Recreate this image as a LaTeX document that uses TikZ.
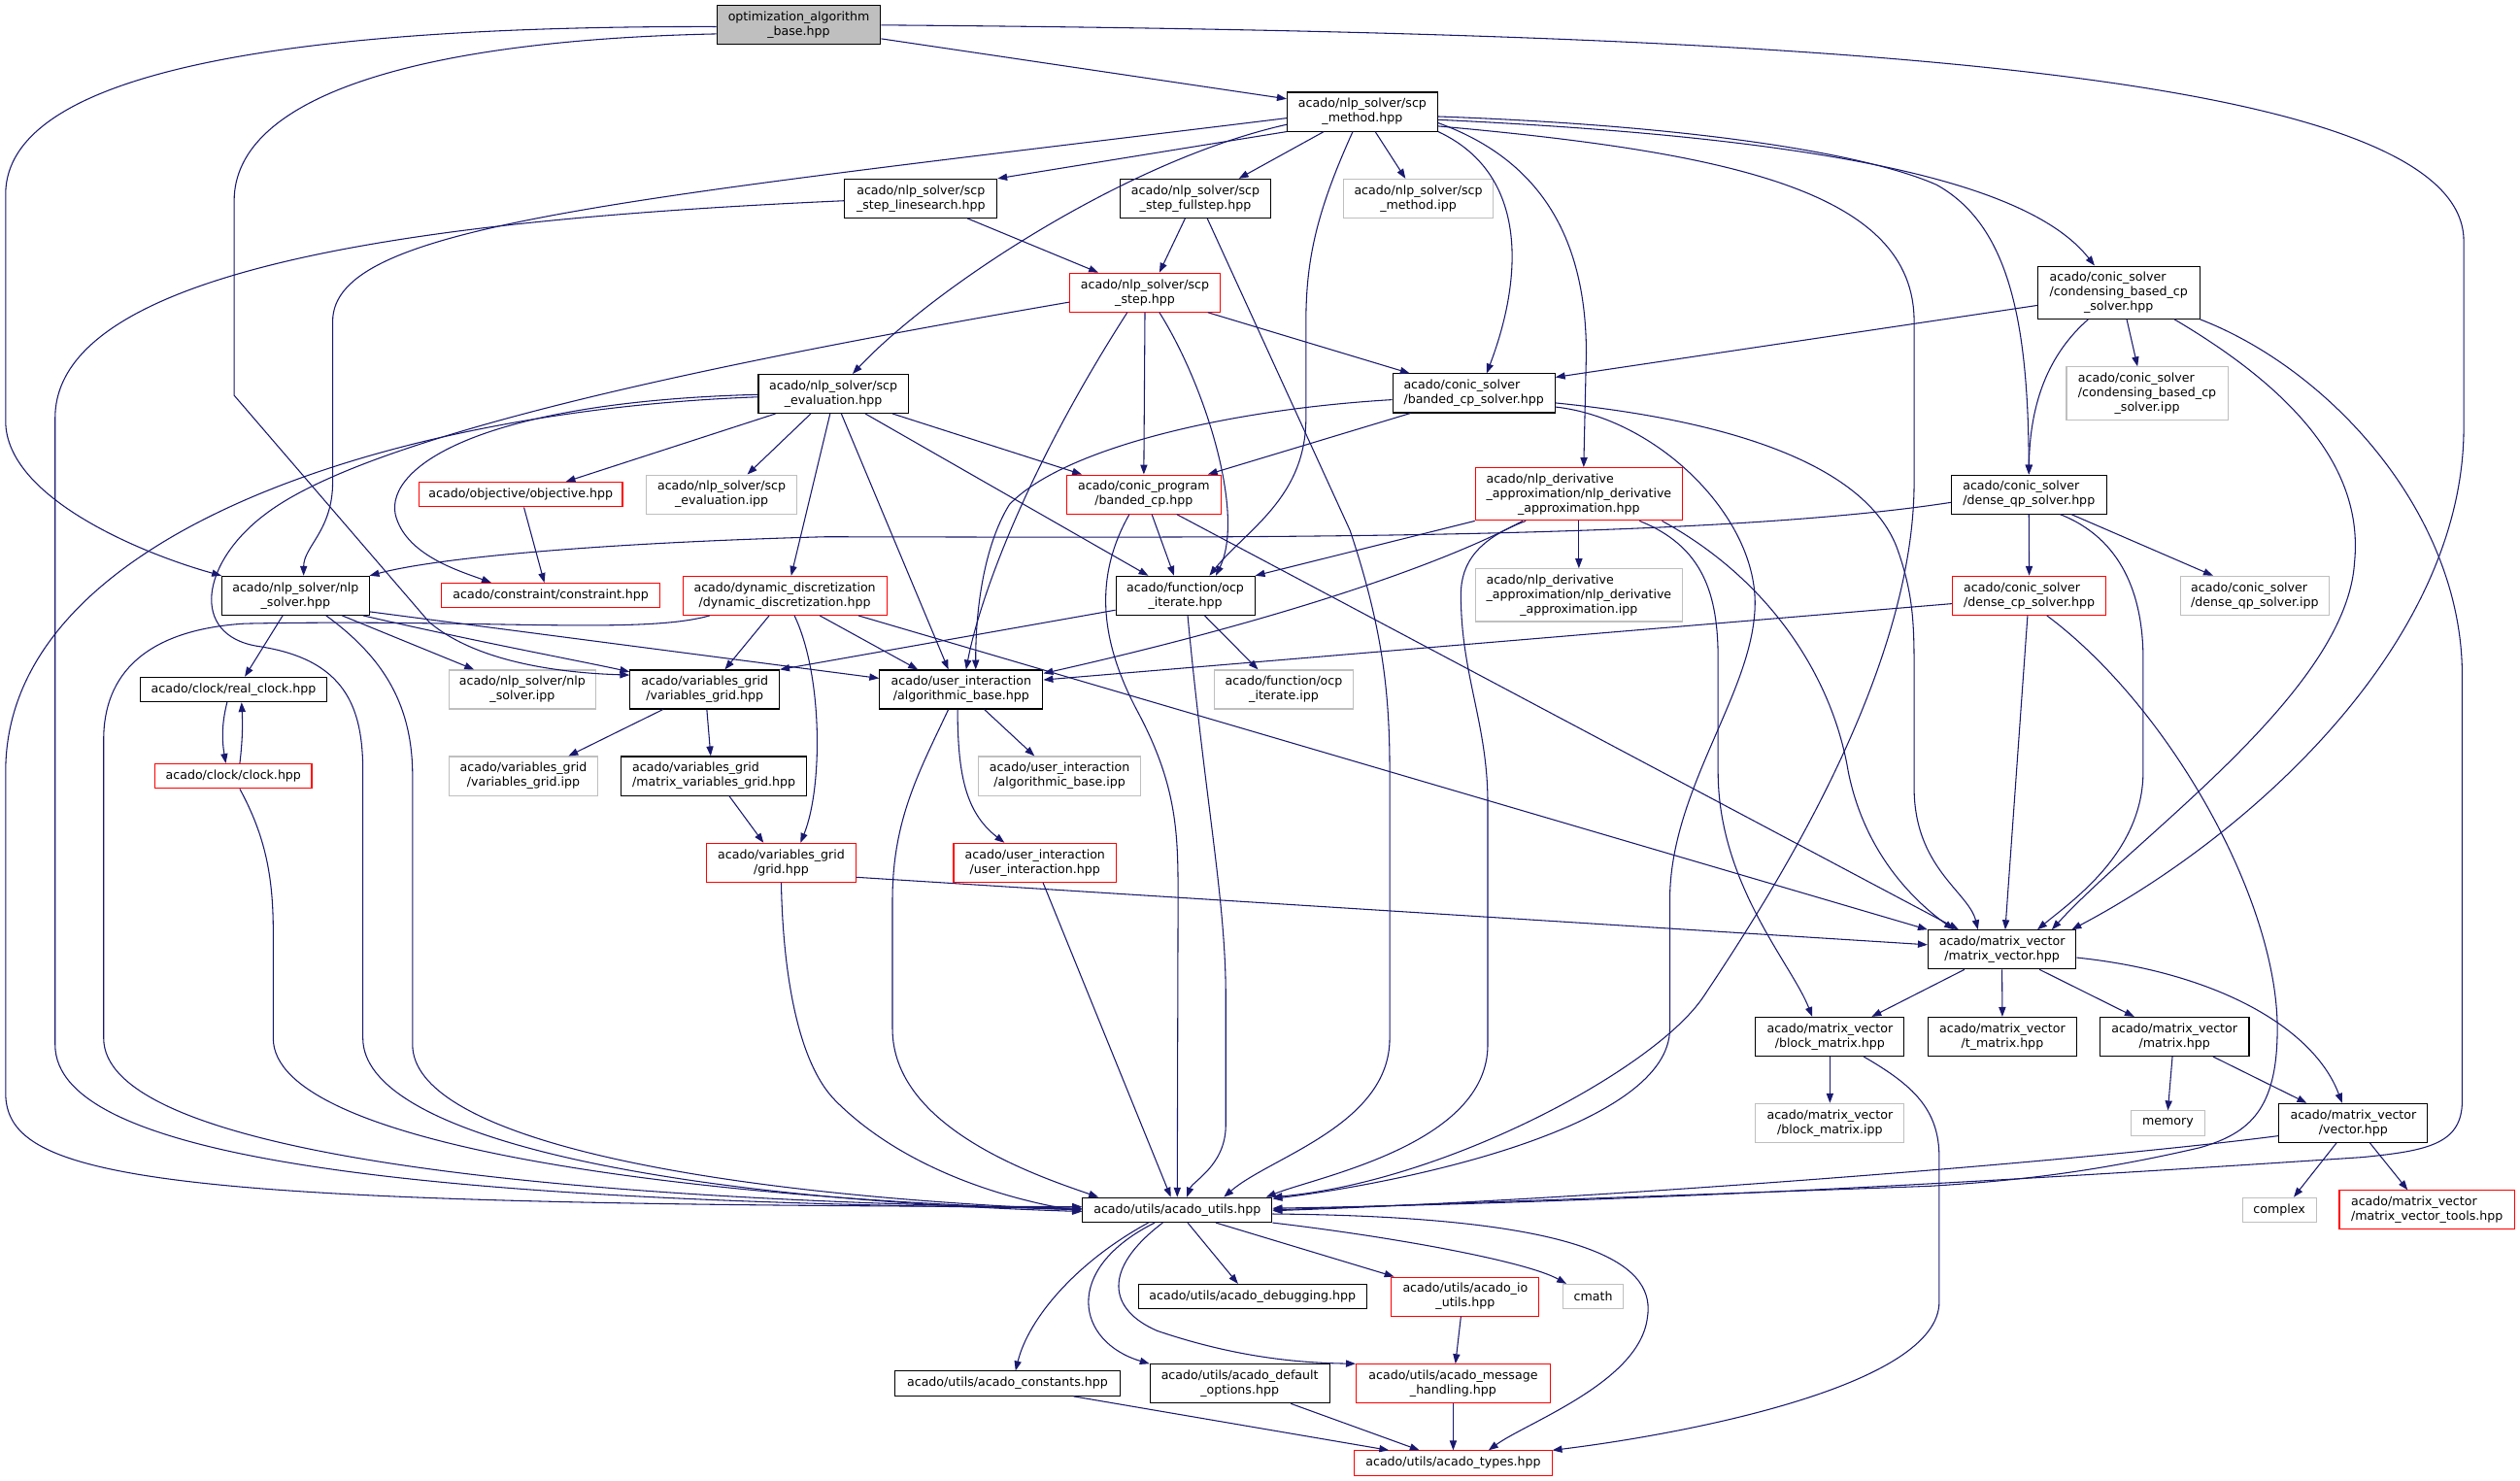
\documentclass[tikz,border=0pt]{standalone}
\usepackage{fontspec}
\newfontfamily\dxfont{DejaVu Sans}
\usetikzlibrary{calc,arrows.meta}
\definecolor{edgeblue}{HTML}{191970}
\definecolor{extgray}{HTML}{BFBFBF}
\newcommand{\lfirst}[2]{\rlap{#1}\phantom{#2}}
\tikzset{
  hdr/.style={draw=black, line width=0.55pt, fill=white, align=center, inner xsep=1pt, inner ysep=1pt,
    font=\dxfont\fontsize{6.5pt}{7.73pt}\selectfont},
  hdrred/.style={hdr, draw=red},
  hdrext/.style={hdr, draw=extgray},
  hdrmain/.style={hdr, fill=extgray},
  lal/.style={align=left},
  wd/.style={minimum width=#1*0.03cm},
  h1/.style={minimum height=0.459cm},
  h2/.style={minimum height=0.726cm},
  h3/.style={minimum height=0.984cm},
  inc/.style={draw=edgeblue, line width=0.55pt, -{Triangle[length=0.18cm,width=0.13cm]}}
}
\begin{document}
\begin{tikzpicture}[x=0.03cm, y=-0.03cm]
\fill[white] (0,0) rectangle (1568,921);
\useasboundingbox (0,0) rectangle (1568,921);

\node[hdrmain,wd=102,h2] (opt) at (497,15.6) {optimization\_algorithm\\\_base.hpp};
\node[hdr,wd=93.7,h2] (scpmethod) at (847.7,69.5) {acado/nlp\_solver/scp\\\_method.hpp};
\node[hdr,wd=94.7,h2] (linesearch) at (573,123.5) {acado/nlp\_solver/scp\\\_step\_linesearch.hpp};
\node[hdr,wd=93.3,h2] (fullstep) at (743.8,123.5) {acado/nlp\_solver/scp\\\_step\_fullstep.hpp};
\node[hdrext,wd=93.3,h2] (methodipp) at (882.5,123.5) {acado/nlp\_solver/scp\\\_method.ipp};
\node[hdr,wd=100.7,h3] (condensing) at (1318.3,182) {\lfirst{acado/conic\_solver}{/condensing\_based\_cp}\\/condensing\_based\_cp\\\_solver.hpp};
\node[hdrred,wd=93.7,h2] (step) at (712.4,182) {acado/nlp\_solver/scp\\\_step.hpp};
\node[hdr,wd=93.2,h2] (eval) at (518.5,245) {acado/nlp\_solver/scp\\\_evaluation.hpp};
\node[hdr,lal,wd=101,h2] (bsolver) at (917,244.7) {acado/conic\_solver\\/banded\_cp\_solver.hpp};
\node[hdrext,wd=100.4,h3] (condipp) at (1336,244.7) {\lfirst{acado/conic\_solver}{/condensing\_based\_cp}\\/condensing\_based\_cp\\\_solver.ipp};
\node[hdrred,wd=126.6,h1] (objective) at (324,307.7) {acado/objective/objective.hpp};
\node[hdrext,wd=93.6,h2] (evalipp) at (449,307.6) {acado/nlp\_solver/scp\\\_evaluation.ipp};
\node[hdrred,wd=96.4,h2] (bandedcp) at (711.7,307.6) {acado/conic\_program\\/banded\_cp.hpp};
\node[hdrred,wd=128.8,h3] (nlpderiv) at (982.4,307.4) {\lfirst{acado/nlp\_derivative}{\_approximation/nlp\_derivative}\\\_approximation/nlp\_derivative\\\_approximation.hpp};
\node[hdr,lal,wd=96.5,h2] (denseqp) at (1262.4,307.6) {acado/conic\_solver\\/dense\_qp\_solver.hpp};
\node[hdr,wd=91.5,h2] (nlpsolver) at (183.9,370.6) {acado/nlp\_solver/nlp\\\_solver.hpp};
\node[hdrred,wd=136,h1] (constraint) at (342.7,370.5) {acado/constraint/constraint.hpp};
\node[hdrred,wd=126.9,h2] (dyndisc) at (488.3,370.6) {acado/dynamic\_discretization\\/dynamic\_discretization.hpp};
\node[hdr,wd=86.4,h2] (ocpit) at (737.5,370.6) {acado/function/ocp\\\_iterate.hpp};
\node[hdrext,wd=128.8,h3] (derivipp) at (982.4,370.3) {\lfirst{acado/nlp\_derivative}{\_approximation/nlp\_derivative}\\\_approximation/nlp\_derivative\\\_approximation.ipp};
\node[hdrred,lal,wd=95.6,h2] (densecp) at (1262.6,370.6) {acado/conic\_solver\\/dense\_cp\_solver.hpp};
\node[hdrext,lal,wd=92.8,h2] (denseqpipp) at (1403,370.6) {acado/conic\_solver\\/dense\_qp\_solver.ipp};
\node[hdr,wd=115.9,h1] (realclock) at (145.3,429) {acado/clock/real\_clock.hpp};
\node[hdrext,wd=91.6,h2] (solveripp) at (325,429) {acado/nlp\_solver/nlp\\\_solver.ipp};
\node[hdr,wd=92.9,h2] (vargrid) at (438.5,429) {acado/variables\_grid\\/variables\_grid.hpp};
\node[hdr,wd=101.6,h2] (algbase) at (598.1,429) {acado/user\_interaction\\/algorithmic\_base.hpp};
\node[hdrext,wd=86.1,h2] (ocpitipp) at (798.8,429) {acado/function/ocp\\\_iterate.ipp};
\node[hdrred,wd=97.5,h1] (clock) at (145.2,482.9) {acado/clock/clock.hpp};
\node[hdrext,wd=92.3,h2] (vargridipp) at (325.7,482.8) {acado/variables\_grid\\/variables\_grid.ipp};
\node[hdr,lal,wd=115.6,h2] (matvargrid) at (444.2,482.8) {acado/variables\_grid\\/matrix\_variables\_grid.hpp};
\node[hdrext,wd=101.2,h2] (algbaseipp) at (659.3,482.8) {acado/user\_interaction\\/algorithmic\_base.ipp};
\node[hdrred,wd=92.7,h2] (grid) at (486.1,536.8) {acado/variables\_grid\\/grid.hpp};
\node[hdrred,wd=101.3,h2] (userint) at (644,536.8) {acado/user\_interaction\\/user\_interaction.hpp};
\node[hdr,wd=92.1,h2] (matvec) at (1245.7,590.8) {acado/matrix\_vector\\/matrix\_vector.hpp};
\node[hdr,wd=92.4,h2] (blockmat) at (1138.6,645) {acado/matrix\_vector\\/block\_matrix.hpp};
\node[hdr,wd=92.4,h2] (tmat) at (1245.9,645) {acado/matrix\_vector\\/t\_matrix.hpp};
\node[hdr,wd=92.8,h2] (mat) at (1353,645) {acado/matrix\_vector\\/matrix.hpp};
\node[hdrext,wd=92.4,h2] (blockmatipp) at (1138.6,698.7) {acado/matrix\_vector\\/block\_matrix.ipp};
\node[hdrext,wd=45.9,h1] (memory) at (1348.9,698.8) {memory};
\node[hdr,wd=92.5,h2] (vector) at (1464.3,698.7) {acado/matrix\_vector\\/vector.hpp};
\node[hdr,wd=118,h1] (utils) at (732.5,752.8) {acado/utils/acado\_utils.hpp};
\node[hdrext,wd=45.9,h1] (complex) at (1418.2,752.8) {complex};
\node[hdrred,lal,wd=109,h2] (mvtools) at (1510.1,752.8) {acado/matrix\_vector\\/matrix\_vector\_tools.hpp};
\node[hdr,wd=142.2,h1] (debugging) at (779.3,806.7) {acado/utils/acado\_debugging.hpp};
\node[hdrred,wd=91.9,h2] (ioutils) at (911.7,806.7) {acado/utils/acado\_io\\\_utils.hpp};
\node[hdrext,wd=37.4,h1] (cmath) at (991.3,806.7) {cmath};
\node[hdr,wd=139.8,h1] (constants) at (626.9,860.8) {acado/utils/acado\_constants.hpp};
\node[hdr,wd=111.7,h2] (defopts) at (771.4,860.9) {acado/utils/acado\_default\\\_options.hpp};
\node[hdrred,wd=120.8,h2] (msghandling) at (904.2,860.9) {acado/utils/acado\_message\\\_handling.hpp};
\node[hdrred,wd=122.8,h1] (types) at (904.2,910.3) {acado/utils/acado\_types.hpp};

% optimization_algorithm_base
\draw[inc] ($(opt.east)+(0,8.5)$) -- ($(scpmethod.west)+(0,-8)$);
\draw[inc] ($(opt.west)+(0,1)$) .. controls (200,16) and (3.5,40) .. (3.5,121) -- (3.5,262) .. controls (3.5,310) and (90,345) .. (nlpsolver.north west);
\draw[inc] ($(opt.west)+(0,5.5)$) .. controls (260,25) and (145.7,60) .. (145.7,125) -- (145.7,246) -- (267,387) .. controls (300,415) and (360,419) .. ($(vargrid.west)+(0,-9)$);
\draw[inc] (opt.east) .. controls (1100,20) and (1533,40) .. (1533,150) -- (1533,266) .. controls (1533,400) and (1400,520) .. ($(matvec.north east)+(-3,0)$);

% scp_method
\draw[inc] (scpmethod.south west) -- (linesearch.north east);
\draw[inc] ($(scpmethod.south)+(-24,0)$) -- ($(fullstep.north)+(27,0)$);
\draw[inc] ($(scpmethod.south)+(8,0)$) -- ($(methodipp.north)+(-8,0)$);
\draw[inc] ($(scpmethod.west)+(0,8)$) .. controls (700,100) and (580,180) .. ($(eval.north)+(12,0)$);
\draw[inc] ($(scpmethod.west)+(0,4)$) .. controls (380,125) and (207,140) .. (207,200) -- (207,300) .. controls (207,330) and (189,340) .. ($(nlpsolver.north)+(5,0)$);
\draw[inc] ($(scpmethod.south)+(-6,0)$) .. controls (820,130) and (812.6,160) .. (812.6,200) -- (812.6,260) .. controls (812.6,310) and (775,330) .. ($(ocpit.north)+(15,0)$);
\draw[inc] (scpmethod.south east) .. controls (955,110) and (945,180) .. ($(bsolver.north)+(8,0)$);
\draw[inc] ($(scpmethod.east)+(0,7)$) .. controls (960,100) and (987,150) .. (987,220) -- ($(nlpderiv.north)+(3,0)$);
\draw[inc] ($(scpmethod.east)+(0,3)$) .. controls (1050,78) and (1160,95) .. (1205,115) .. controls (1250,140) and (1262,200) .. (denseqp.north);
\draw[inc] ($(scpmethod.east)+(0,5)$) .. controls (1120,85) and (1260,110) .. ($(condensing.north)+(-15,0)$);
\draw[inc] ($(scpmethod.east)+(0,9)$) .. controls (1080,95) and (1191,120) .. (1191,200) -- (1191,300) .. controls (1191,420) and (1100,560) .. (1060,620) .. controls (1030,665) and (900,735) .. (utils.north east);

% scp steps
\draw[inc] ($(linesearch.south)+(29,0)$) -- ($(step.north)+(-29,0)$);
\draw[inc] ($(linesearch.west)+(0,1.4)$) .. controls (300,135) and (34.3,160) .. (34.3,260) -- (34.3,650) .. controls (34.3,720) and (250,748) .. ($(utils.west)+(0,-1)$);
\draw[inc] ($(fullstep.south)+(-6.4,0)$) -- ($(step.north)+(9,0)$);
\draw[inc] ($(fullstep.south)+(7.4,0)$) -- (840,330) .. controls (860,390) and (864.7,430) .. (864.7,480) -- (864.7,646) .. controls (864.7,700) and (790,720) .. ($(utils.north)+(29,0)$);
\draw[inc] ($(step.south east)+(-8,0)$) -- ($(bsolver.north west)+(11,0)$);
\draw[inc] (step.south) -- (bandedcp.north);
\draw[inc] ($(step.south)+(9,0)$) .. controls (750,240) and (775,320) .. ($(ocpit.north)+(19,0)$);
\draw[inc] ($(step.south)+(-11,0)$) .. controls (640,290) and (610,370) .. ($(algbase.north)+(3,0)$);
\draw[inc] ($(step.west)+(0,6)$) .. controls (450,225) and (230,270) .. (165,320) .. controls (125,350) and (118,395) .. (160,402) .. controls (215,410) and (225.8,440) .. (225.8,480) -- (225.8,646) .. controls (225.8,705) and (400,745) .. ($(utils.west)+(0,1)$);

% scp_evaluation
\draw[inc] ($(eval.south)+(-36,0)$) -- ($(objective.north)+(28,0)$);
\draw[inc] ($(eval.south)+(-14,0)$) -- ($(evalipp.north)+(16,0)$);
\draw[inc] ($(eval.west)+(0,0.5)$) .. controls (300,250) and (240,290) .. (246,320) .. controls (252,345) and (285,355) .. ($(constraint.north)+(-37,0)$);
\draw[inc] ($(eval.south)+(-2,0)$) -- ($(dyndisc.north)+(4,0)$);
\draw[inc] ($(eval.south)+(5,0)$) -- ($(algbase.north)+(-8,0)$);
\draw[inc] ($(eval.south east)+(-27,0)$) -- ($(ocpit.north)+(-23,0)$);
\draw[inc] ($(eval.south east)+(-10,0)$) -- ($(bandedcp.north west)+(10,0)$);
\draw[inc] ($(eval.west)+(0,2)$) .. controls (250,255) and (3.5,330) .. (3.5,480) -- (3.5,680) .. controls (3.5,735) and (100,750) .. ($(utils.west)+(0,-2)$);
\draw[inc] ($(objective.south)+(2,0)$) -- ($(constraint.north)+(-4,0)$);

% nlp_solver
\draw[inc] ($(nlpsolver.south)+(-8,0)$) -- ($(realclock.north)+(7,0)$);
\draw[inc] ($(nlpsolver.south)+(29,0)$) -- ($(solveripp.north)+(-30,0)$);
\draw[inc] ($(nlpsolver.south east)+(-4,0)$) .. controls (300,400) and (360,411) .. ($(vargrid.west)+(0,-11)$);
\draw[inc] ($(nlpsolver.east)+(0,10)$) -- ($(algbase.west)+(0,-7)$);
\draw[inc] ($(nlpsolver.south)+(19,0)$) .. controls (240,410) and (256.7,440) .. (256.7,483) -- (256.7,650) .. controls (256.7,705) and (420,742) .. (utils.west);
\draw[inc] ($(realclock.south)+(-4,0)$) .. controls (138,450) and (138,460) .. ($(clock.north)+(-4.7,0)$);
\draw[inc] ($(clock.north)+(4,0)$) .. controls (151,460) and (151,450) .. ($(realclock.south)+(5,0)$);
\draw[inc] ($(clock.south)+(4,0)$) .. controls (165,520) and (170,545) .. (170,580) -- (170,646) .. controls (170,712) and (420,745) .. (utils.west);

% dynamic_discretization
\draw[inc] ($(dyndisc.south)+(-9.7,0)$) -- ($(vargrid.north)+(12.5,0)$);
\draw[inc] ($(dyndisc.south)+(6,0)$) .. controls (512,420) and (512,490) .. ($(grid.north)+(12,0)$);
\draw[inc] ($(dyndisc.south east)+(-42,0)$) -- ($(algbase.north)+(-27,0)$);
\draw[inc] ($(dyndisc.south east)+(-18,0)$) -- (matvec.north west);
\draw[inc] ($(dyndisc.south west)+(17,0)$) .. controls (400,395) and (300,385) .. (152,388) .. controls (90,392) and (64.5,420) .. (64.5,460) -- (64.5,646) .. controls (64.5,712) and (300,746) .. ($(utils.west)+(0,-1)$);

% ocp_iterate, banded_cp
\draw[inc] ($(ocpit.west)+(0,9)$) -- (vargrid.north east);
\draw[inc] ($(ocpit.south)+(12,0)$) -- ($(ocpitipp.north)+(-16,0)$);
\draw[inc] ($(ocpit.south)+(1.5,0)$) .. controls (750,500) and (762.7,560) .. (762.7,620) -- (762.7,700) .. controls (762.7,725) and (742,735) .. ($(utils.north)+(6,0)$);
\draw[inc] ($(bandedcp.south)+(5,0)$) -- ($(ocpit.north)+(-7,0)$);
\draw[inc] ($(bandedcp.south)+(20.5,0)$) -- ($(matvec.north)+(-27,0)$);
\draw[inc] ($(bandedcp.south)+(-9,0)$) .. controls (680,360) and (685,400) .. (708,443) .. controls (733,490) and (733,520) .. (733,560) -- (utils.north);

% banded_cp_solver
\draw[inc] ($(bsolver.south west)+(11.4,0)$) -- ($(bandedcp.north east)+(-8.7,0)$);
\draw[inc] ($(bsolver.west)+(0,4)$) .. controls (760,255) and (660,280) .. (628,314) .. controls (612,340) and (607,380) .. ($(algbase.north)+(9,0)$);
\draw[inc] ($(bsolver.east)+(0,6)$) .. controls (1080,262) and (1160,290) .. (1180,340) .. controls (1191,370) and (1191,390) .. (1191,420) -- (1191,490) .. controls (1191,540) and (1225,555) .. ($(matvec.north)+(-15,0)$);
\draw[inc] ($(bsolver.east)+(0,8.5)$) .. controls (1030,260) and (1092,320) .. (1092,375) .. controls (1092,430) and (1039,490) .. (1039,560) -- (1039,640) .. controls (1039,700) and (880,735) .. ($(utils.north east)+(0,1)$);

% nlp_derivative_approximation
\draw[inc] (nlpderiv.south) -- (derivipp.north);
\draw[inc] (nlpderiv.south west) -- (ocpit.north east);
\draw[inc] ($(nlpderiv.south)+(-35,0)$) .. controls (900,350) and (800,385) .. ($(algbase.east)+(0,-10)$);
\draw[inc] ($(nlpderiv.south)+(-33,0)$) .. controls (920,335) and (909,350) .. (909,370) .. controls (909,420) and (925.7,450) .. (925.7,500) -- (925.7,650) .. controls (925.7,712) and (820,732) .. ($(utils.north east)+(-4,0)$);
\draw[inc] ($(nlpderiv.south east)+(-27,0)$) .. controls (1060,340) and (1069,370) .. (1069,410) -- (1069,480) .. controls (1069,550) and (1115,600) .. ($(blockmat.north)+(-11,0)$);
\draw[inc] ($(nlpderiv.south east)+(-13,0)$) .. controls (1100,360) and (1140,420) .. (1150,480) .. controls (1160,530) and (1190,560) .. ($(matvec.north)+(-30,0)$);

% condensing_based_cp_solver
\draw[inc] ($(condensing.west)+(0,8)$) -- ($(bsolver.east)+(0,-10)$);
\draw[inc] ($(condensing.south)+(5,0)$) -- ($(condipp.north)+(-6,0)$);
\draw[inc] ($(condensing.south)+(-19,0)$) .. controls (1275,220) and (1263,250) .. (denseqp.north);
\draw[inc] ($(condensing.south east)+(-16,0)$) .. controls (1440,250) and (1470,300) .. (1465,350) .. controls (1460,430) and (1330,520) .. ($(matvec.north)+(31,0)$);
\draw[inc] (condensing.south east) .. controls (1450,230) and (1532,320) .. (1532,420) -- (1532,685) .. controls (1532,712) and (1510,716) .. (1470,720) .. controls (1200,738) and (1000,748) .. ($(utils.east)+(0,-1)$);

% dense_qp_solver, dense_cp_solver
\draw[inc] ($(denseqp.west)+(0,5)$) .. controls (1050,338) and (700,334) .. (513,334) .. controls (400,337) and (280,345) .. (nlpsolver.north east);
\draw[inc] (denseqp.south) -- (densecp.north);
\draw[inc] ($(denseqp.south)+(26.4,0)$) -- ($(denseqpipp.north)+(-26,0)$);
\draw[inc] ($(denseqp.south)+(19.4,0)$) .. controls (1320,335) and (1333.5,370) .. (1333.5,410) -- (1333.5,480) .. controls (1333.5,530) and (1290,560) .. ($(matvec.north)+(22,0)$);
\draw[inc] ($(densecp.west)+(0,5)$) -- ($(algbase.east)+(0,-6)$);
\draw[inc] ($(densecp.south)+(-1,0)$) -- ($(matvec.north)+(2,0)$);
\draw[inc] ($(densecp.south)+(11,0)$) .. controls (1350,440) and (1417,560) .. (1417,640) .. controls (1417,690) and (1400,705) .. (1369,714) .. controls (1300,730) and (1250,735) .. (1200,738) -- (utils.east);

% variables_grid, user_interaction
\draw[inc] ($(vargrid.south)+(-26,0)$) -- ($(vargridipp.north)+(28,0)$);
\draw[inc] ($(vargrid.south)+(1.3,0)$) -- ($(matvargrid.north)+(-2,0)$);
\draw[inc] ($(matvargrid.south)+(9.5,0)$) -- ($(grid.north)+(-11,0)$);
\draw[inc] ($(grid.east)+(0,9)$) -- ($(matvec.west)+(0,-3)$);
\draw[inc] (grid.south) .. controls (487,600) and (495,660) .. (520,685) .. controls (560,725) and (620,745) .. ($(utils.west)+(0,1)$);
\draw[inc] ($(algbase.south)+(14.4,0)$) -- ($(algbaseipp.north)+(-15.6,0)$);
\draw[inc] ($(algbase.south)+(-2.3,0)$) .. controls (596,480) and (600,505) .. ($(userint.north)+(-19,0)$);
\draw[inc] ($(algbase.south)+(-8,0)$) .. controls (572,480) and (555.3,510) .. (555.3,560) -- (555.3,640) .. controls (555.3,700) and (640,730) .. ($(utils.north)+(-49,0)$);
\draw[inc] ($(userint.south)+(5,0)$) -- ($(utils.north)+(-4,0)$);

% matrix_vector
\draw[inc] ($(matvec.south)+(-23.4,0)$) -- ($(blockmat.north)+(26,0)$);
\draw[inc] (matvec.south) -- (tmat.north);
\draw[inc] ($(matvec.south)+(23.3,0)$) -- ($(mat.north)+(-25,0)$);
\draw[inc] ($(matvec.east)+(0,5)$) .. controls (1380,605) and (1440,640) .. ($(vector.north)+(-7,0)$);
\draw[inc] (blockmat.south) -- (blockmatipp.north);
\draw[inc] ($(blockmat.south)+(21,0)$) .. controls (1190,675) and (1206.6,690) .. (1206.6,720) -- (1206.6,810) .. controls (1206.6,862) and (1050,892) .. (types.north east);
\draw[inc] ($(mat.south)+(-1.3,0)$) -- (memory.north);
\draw[inc] ($(mat.south)+(24,0)$) -- ($(vector.north)+(-29,0)$);
\draw[inc] ($(vector.south)+(-10.5,0)$) -- ($(complex.north)+(9,0)$);
\draw[inc] ($(vector.south)+(10.3,0)$) -- ($(mvtools.north)+(-12,0)$);
\draw[inc] ($(vector.west)+(0,8)$) .. controls (1300,722) and (1000,746) .. ($(utils.east)+(0,0.5)$);

% acado_utils
\draw[inc] ($(utils.south)+(6.5,0)$) -- ($(debugging.north)+(-9,0)$);
\draw[inc] ($(utils.south)+(24,0)$) -- ($(ioutils.north west)+(2,0)$);
\draw[inc] (utils.south east) .. controls (870,770) and (950,785) .. ($(cmath.north west)+(2.4,0)$);
\draw[inc] ($(utils.east)+(0,2.5)$) .. controls (1000,757) and (1030,790) .. (1025,820) .. controls (1020,860) and (950,885) .. ($(types.north)+(22,0)$);
\draw[inc] ($(utils.south)+(-18,0)$) .. controls (670,785) and (640,820) .. ($(constants.north)+(5,0)$);
\draw[inc] ($(utils.south)+(-14,0)$) .. controls (660,790) and (670,835) .. (defopts.north west);
\draw[inc] ($(utils.south)+(-9,0)$) .. controls (685,790) and (690,815) .. (720,828) .. controls (770,845) and (810,848) .. (msghandling.north west);
\draw[inc] ($(ioutils.south)+(-2.7,0)$) -- ($(msghandling.north)+(1.4,0)$);
\draw[inc] ($(constants.south)+(41,0)$) -- ($(types.north)+(-40,0)$);
\draw[inc] ($(defopts.south)+(31.8,0)$) -- ($(types.north)+(-21,0)$);
\draw[inc] (msghandling.south) -- (types.north);
\end{tikzpicture}
\end{document}
